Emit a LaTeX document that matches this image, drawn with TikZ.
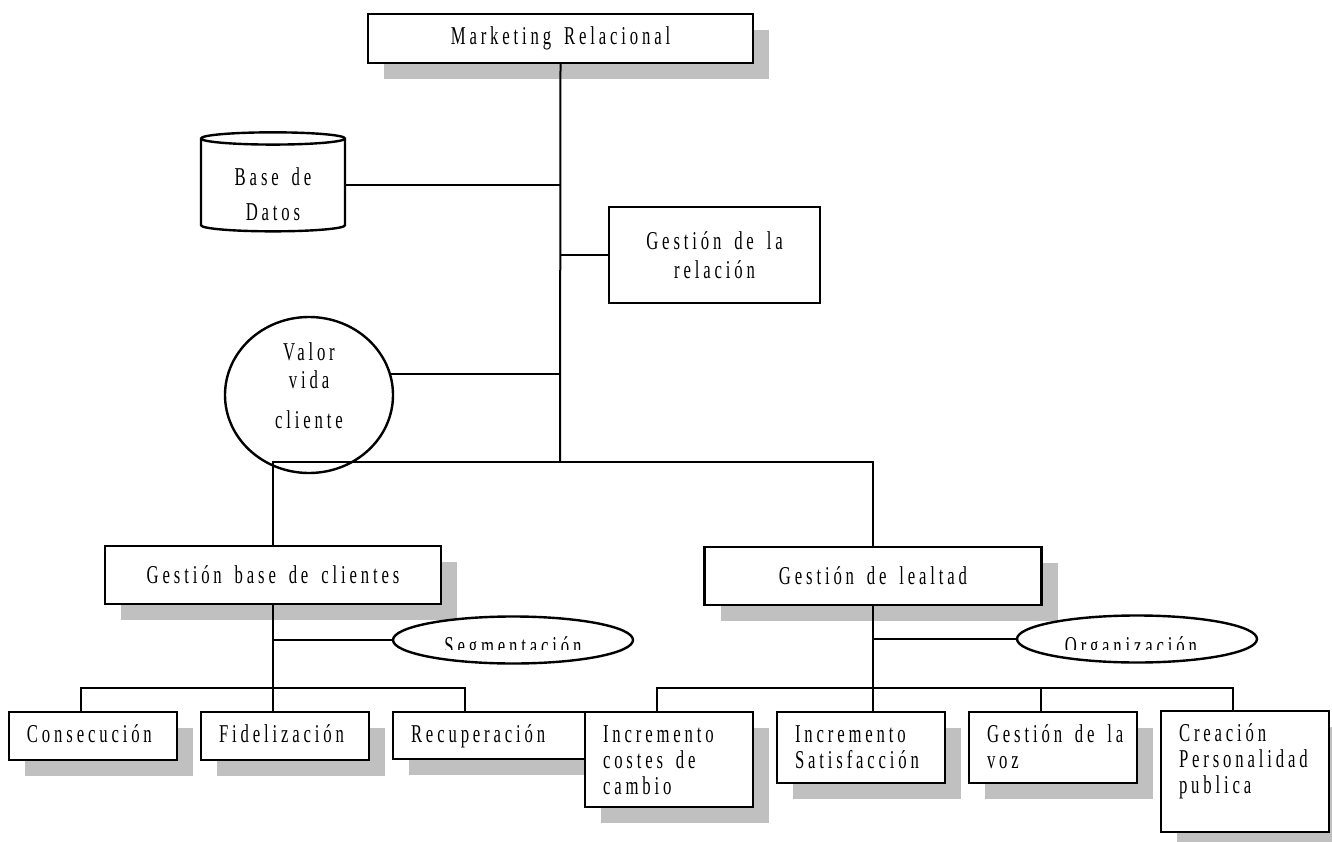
\documentclass[tikz,border=0pt]{standalone}
\usepackage{fontspec}
\newfontfamily\orgfont[FakeStretch=0.65,LetterSpace=15,WordSpace=1.6]{Liberation Serif}
\usetikzlibrary{shapes.geometric,shadows}
\definecolor{shadowgray}{RGB}{192,192,192}
\newcommand\orgsize[1]{\orgfont\fontsize{25.7}{#1}\selectfont}
\tikzset{
  every node/.style={font=\orgsize{26}},
  boxshadow/.style={drop shadow={shadow xshift=16pt,shadow yshift=-16pt,fill=shadowgray,opacity=1}},
  headbox/.style={draw,line width=2.4pt,fill=white,boxshadow,inner sep=0pt},
  leafbox/.style={draw,line width=2.4pt,fill=white,boxshadow,minimum width=168pt,inner sep=0pt},
  leaftext/.style={anchor=base west,align=left,inner sep=0pt,xshift=19pt,yshift={-6pt-26pt*#1}},
  leaftext/.default=1,
  tag/.style={ellipse,draw,line width=2.4pt,fill=white,minimum width=240pt,minimum height=47pt,inner sep=0pt},
  link/.style={line width=2pt},
}
\begin{document}
\begin{tikzpicture}[x=1pt,y=-1pt]
\useasboundingbox (0,0) rectangle (1332,842);
\node[headbox,minimum width=385pt,minimum height=49pt] (mr) at (560.5,38.5) {Marketing Relacional};
\node[cylinder,shape border rotate=90,draw,line width=2.4pt,fill=white,aspect=0.16,minimum width=144pt,minimum height=99pt,inner sep=0pt,align=center,font=\orgsize{35}] (bd) at (273,185.5) {\rule{0pt}{36pt}Base de\\Datos};
\node[draw,line width=2.4pt,fill=white,minimum width=211pt,minimum height=96pt,inner sep=0pt,align=center,font=\orgsize{29}] (gr) at (714.5,255) {Gestión de la\\relación};
\node[ellipse,draw,line width=2.4pt,fill=white,minimum width=168pt,minimum height=156pt,inner sep=0pt,align=center,font=\orgsize{28}] (vv) at (309,395) {Valor\\vida\\[12pt]cliente\rule[-18pt]{0pt}{0pt}};
\node[headbox,minimum width=336pt,minimum height=58pt] (gb) at (273,575) {Gestión base de clientes};
\node[headbox,minimum width=337pt,minimum height=58pt] (gl) at (873,576) {Gestión de lealtad};
\node[tag] (seg) at (513,640) {};
\node[tag] (org) at (1137,639) {};
\begin{scope}
\clip ([yshift=-9pt]seg.west) rectangle (seg.north east);
\node[anchor=base] (seg-t) at ([yshift=-14pt]seg.center) {Segmentación};
\end{scope}
\begin{scope}
\clip ([yshift=-10pt]org.west) rectangle (org.north east);
\node[anchor=base] (org-t) at ([xshift=-6pt,yshift=-15pt]org.center) {Organización};
\end{scope}
% hojas
\node[leafbox,minimum height=48pt] (cons) at (93,736) {};
\node[leaftext] (cons-t) at (cons.north west) {Consecución};
\node[leafbox,minimum height=48pt] (fid) at (285,736) {};
\node[leaftext] (fid-t) at (fid.north west) {Fidelización};
\node[leafbox,minimum width=200pt,minimum height=47pt] (rec) at (493,735.5) {};
\node[leaftext] (rec-t) at (rec.north west) {Recuperación};
\node[leafbox,minimum height=95pt] (icc) at (669,759.5) {};
\node[leaftext=3] (icc-t) at (icc.north west) {Incremento\\costes de\\cambio};
\node[leafbox,minimum height=71pt] (ics) at (861,747.5) {};
\node[leaftext=2] (ics-t) at (ics.north west) {Incremento\\Satisfacción};
\node[leafbox,minimum height=71pt] (gv) at (1053,747.5) {};
\node[leaftext=2] (gv-t) at (gv.north west) {Gestión de la\\voz};
\node[leafbox,minimum height=121pt] (cp) at (1245,771.5) {};
\node[leaftext=3] (cp-t) at (cp.north west) {Creación\\Personalidad\\publica};
% conexiones
\coordinate (hub) at (560,462);
\coordinate (lbar) at (273,688);
\coordinate (rbar) at (873,688);
\draw[link] (mr.south) -- (hub);
\draw[link] (bd.east) -- (bd.east -| hub);
\draw[link] (gr.west) -- (gr.west -| hub);
\draw[link] (vv.14) -- (vv.14 -| hub);
\draw[link] (gb.north) |- (hub) -| (gl.north);
\draw[link] (gb.south) -- (gb.south |- fid.north);
\draw[link] (seg.west) -- (seg.west -| gb.south);
\draw[link] ([xshift=-12pt]cons.north) |- (lbar) -| ([xshift=-28pt]rec.north);
\draw[link] (gl.south) -- (gl.south |- ics.north);
\draw[link] (org.west) -- (org.west -| gl.south);
\draw[link] ([xshift=-12pt]icc.north) |- (rbar) -| ([xshift=-12pt]cp.north);
\draw[link] ([xshift=-12pt]gv.north) -- ([xshift=-12pt]gv.north |- rbar);
\end{tikzpicture}
\end{document}
